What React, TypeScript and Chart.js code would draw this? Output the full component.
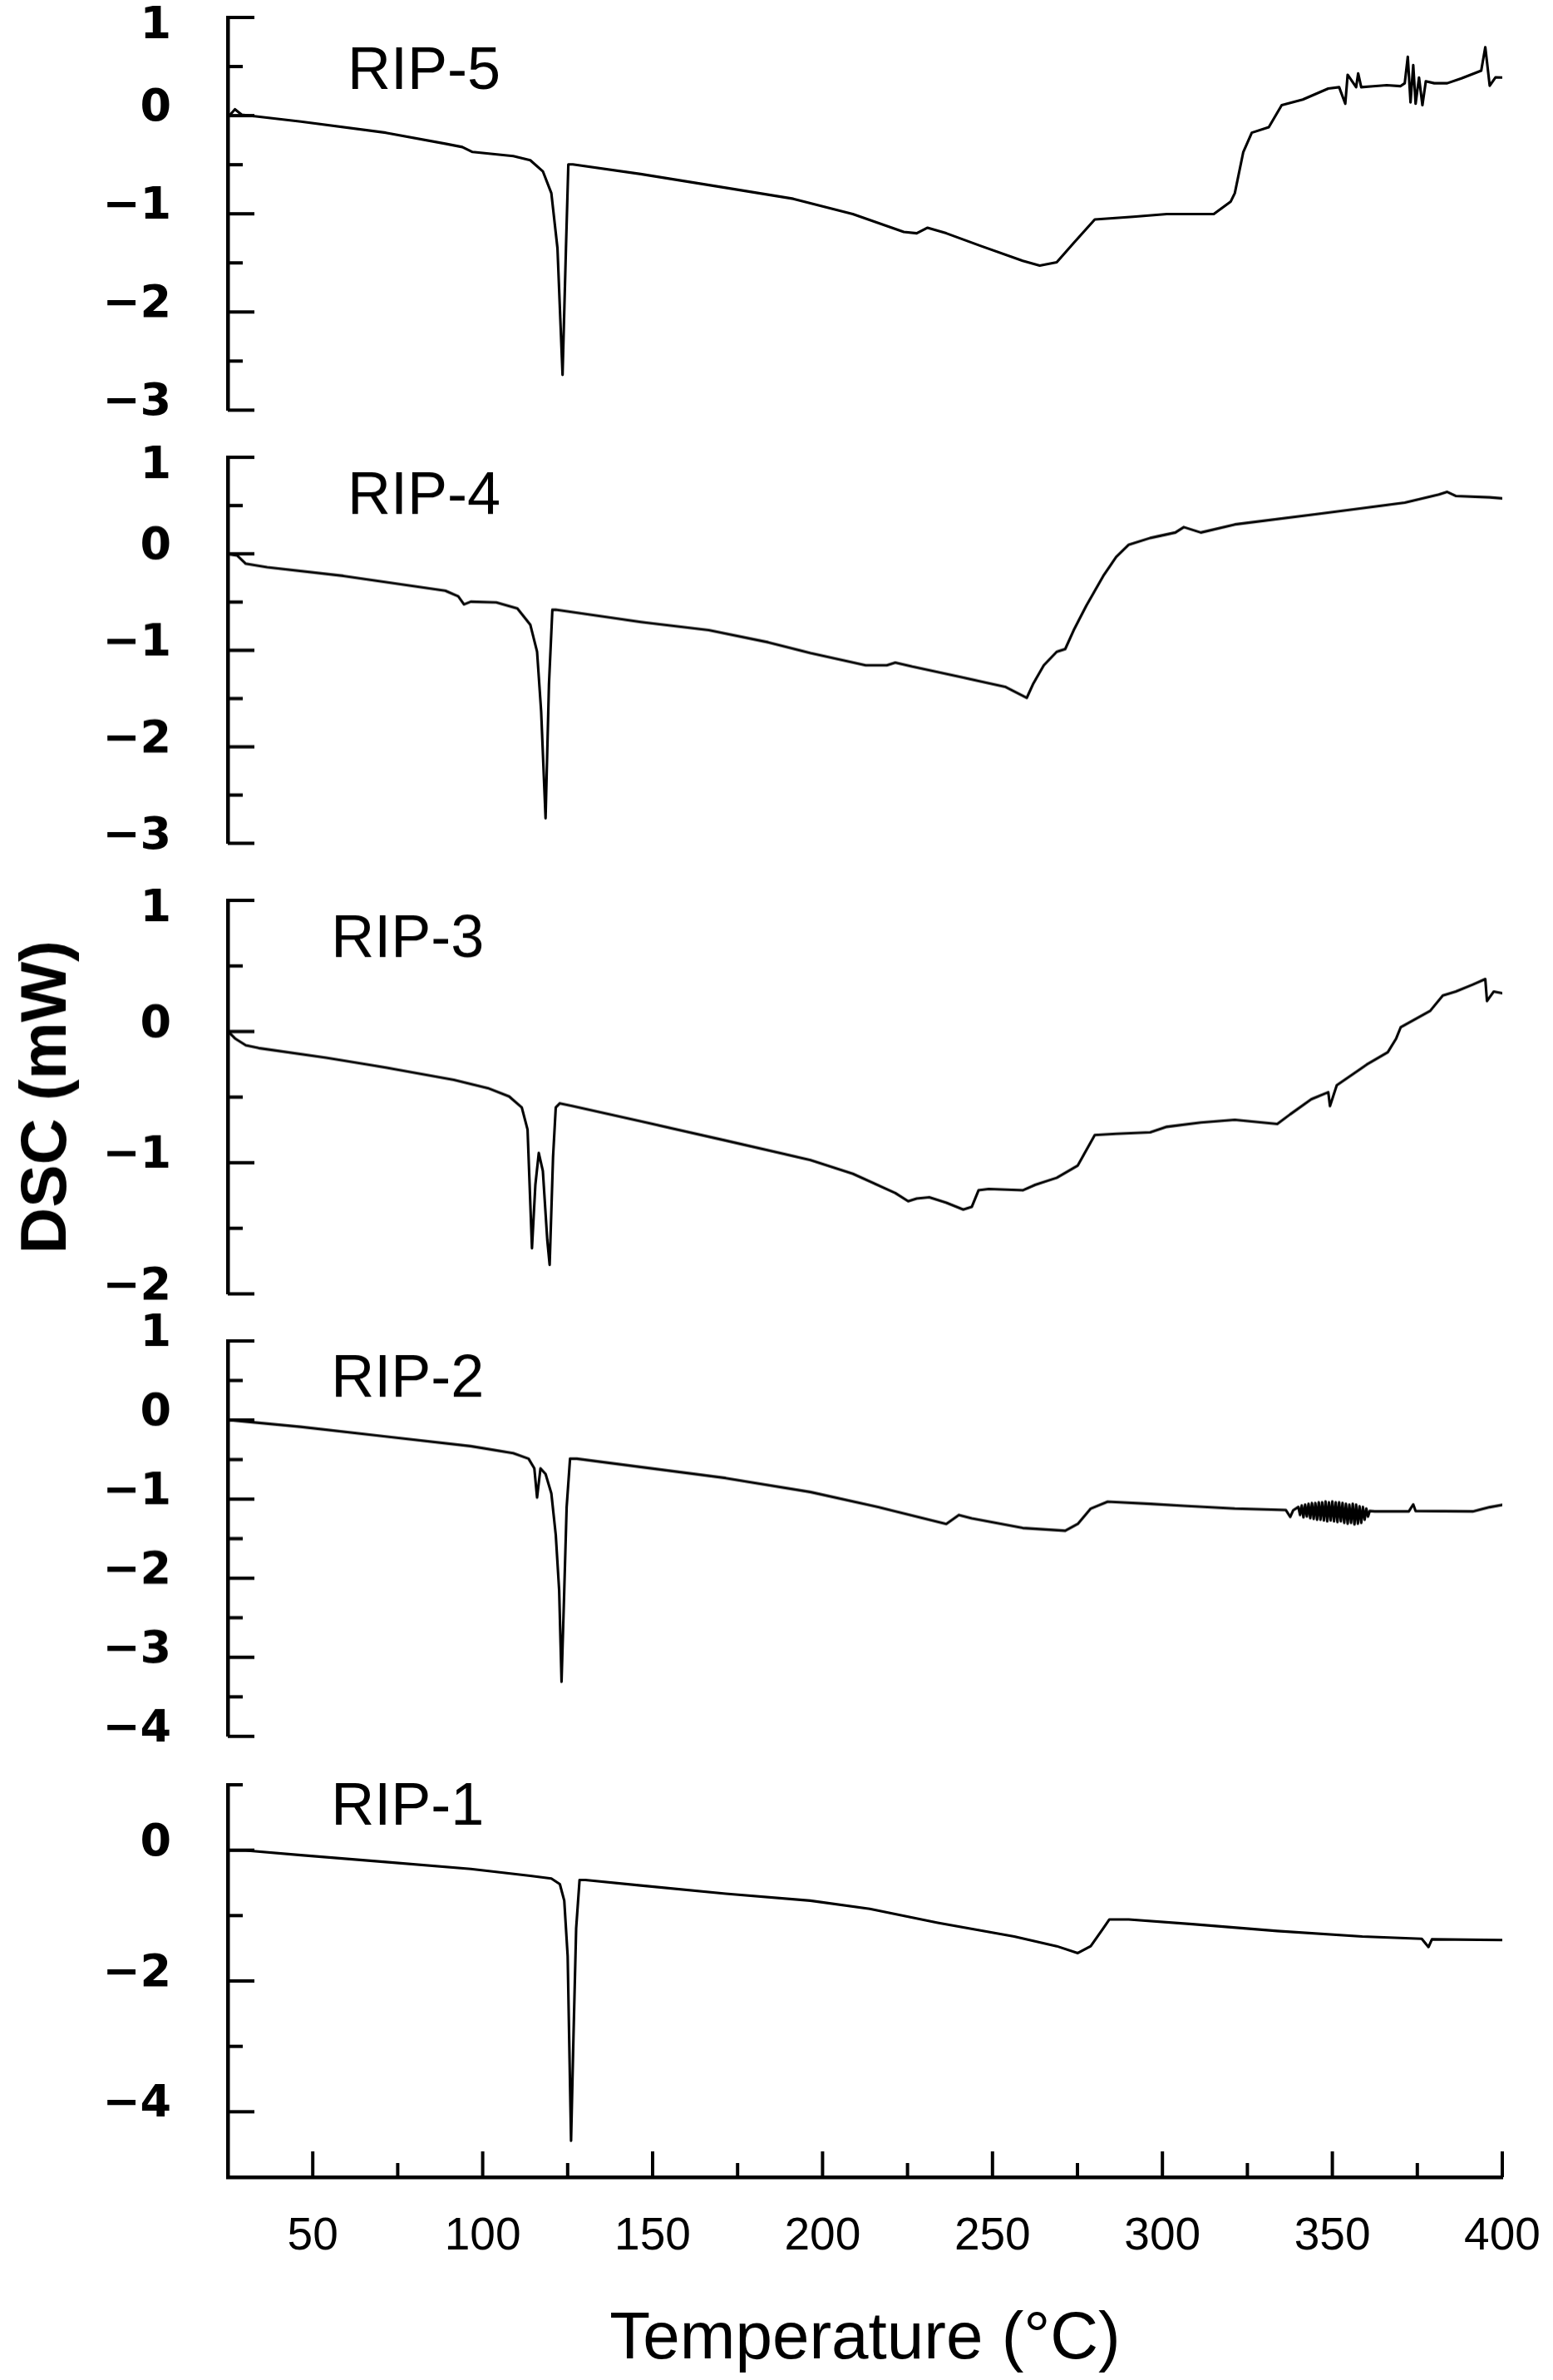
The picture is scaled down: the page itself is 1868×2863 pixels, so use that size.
import React, { useEffect, useRef } from "react";
import { Chart, registerables } from "chart.js";

Chart.register(...registerables);

// ---------------- DATA ----------------
const PANEL_NAMES = ["RIP-5", "RIP-4", "RIP-3", "RIP-2", "RIP-1"];

const rip5T = [25.3, 27.1, 29.1, 46.5, 71.5, 89, 94, 97, 109, 114, 117.7, 120.2, 122, 123.5, 124.5, 125.2, 126.5, 146.5, 171.5, 191.4, 208.9, 223.9, 227.7, 230.9, 236.4, 246.4, 258.9, 263.9, 268.9, 273.9, 280.1, 291.4, 301.3, 315.1, 320.1, 321.3, 323.8, 326.3, 331.3, 335.1, 341.3, 348.8, 352, 353.8, 354.5, 357, 357.6, 358.5, 362, 366, 370, 371.3, 372.2, 373, 373.8, 374.5, 375.5, 376.5, 377.5, 380, 383.8, 388, 393.8, 395, 396.3, 398, 400.8];
const rip5V = [-0.005, 0.065, 0.009, -0.061, -0.174, -0.286, -0.32, -0.37, -0.412, -0.454, -0.567, -0.79, -1.35, -2.64, -1.35, -0.496, -0.496, -0.595, -0.735, -0.847, -1.002, -1.184, -1.198, -1.142, -1.198, -1.325, -1.479, -1.527, -1.493, -1.297, -1.058, -1.03, -1.002, -1.002, -0.875, -0.79, -0.37, -0.174, -0.117, 0.107, 0.164, 0.276, 0.29, 0.121, 0.416, 0.29, 0.43, 0.29, 0.3, 0.31, 0.3, 0.33, 0.6, 0.135, 0.514, 0.121, 0.388, 0.107, 0.35, 0.33, 0.33, 0.38, 0.458, 0.697, 0.304, 0.39, 0.388];

const rip4T = [25.3, 27.8, 30.3, 36.6, 59, 89, 92.8, 94.5, 96.5, 104, 110.2, 114, 116, 117.2, 118.5, 119.5, 120.5, 121.5, 146.5, 166.5, 184, 196.4, 212.7, 218.9, 221.4, 226.4, 241.4, 253.9, 260.1, 261.9, 265.1, 268.9, 271.4, 273.9, 277.6, 282.6, 286.4, 290.1, 296.4, 303.8, 306.3, 311.3, 321.3, 346.3, 371.3, 381.3, 383.8, 386.3, 396.3, 400.8];
const rip4V = [-0.005, -0.019, -0.103, -0.139, -0.229, -0.383, -0.44, -0.524, -0.496, -0.504, -0.566, -0.734, -1.015, -1.633, -2.741, -1.352, -0.58, -0.58, -0.706, -0.791, -0.917, -1.029, -1.155, -1.155, -1.127, -1.169, -1.282, -1.38, -1.492, -1.352, -1.155, -1.015, -0.987, -0.791, -0.538, -0.229, -0.033, 0.094, 0.164, 0.22, 0.276, 0.22, 0.304, 0.416, 0.529, 0.613, 0.641, 0.599, 0.585, 0.571];

const rip3T = [25.3, 27.1, 30.3, 34.1, 54, 71.5, 91.5, 101.5, 107.8, 111.5, 113.2, 114.5, 115.5, 116.5, 117.7, 119, 119.7, 120.7, 121.5, 122.7, 126.5, 146.5, 171.5, 196.4, 208.9, 221.4, 225.2, 227.7, 231.4, 236.4, 241.4, 243.9, 245.9, 248.9, 258.9, 262.6, 268.9, 275.1, 280.1, 286.4, 296.4, 301.3, 311.3, 321.3, 333.8, 337.6, 343.8, 348.8, 349.3, 351.3, 360.1, 366.3, 368.8, 370.1, 378.8, 382.5, 386.3, 391.3, 395, 395.5, 397.5, 400.8];
const rip3V = [-0.006, -0.052, -0.105, -0.126, -0.2, -0.274, -0.368, -0.431, -0.495, -0.579, -0.747, -1.652, -1.168, -0.926, -1.063, -1.589, -1.779, -0.958, -0.579, -0.547, -0.568, -0.684, -0.831, -0.979, -1.084, -1.231, -1.294, -1.273, -1.263, -1.305, -1.357, -1.337, -1.21, -1.2, -1.21, -1.168, -1.115, -1.021, -0.789, -0.779, -0.768, -0.726, -0.694, -0.673, -0.705, -0.631, -0.516, -0.463, -0.568, -0.41, -0.252, -0.158, -0.052, 0.032, 0.158, 0.274, 0.305, 0.358, 0.4, 0.232, 0.305, 0.288];

const rip2T = [25.3, 46.5, 71.5, 96.5, 109, 113.5, 115.2, 116, 117, 118.5, 120.2, 121.5, 122.5, 123.2, 124, 124.7, 125.7, 127.7, 146.5, 171.5, 196.4, 216.4, 236.4, 240.1, 243.9, 258.9, 271.4, 275.1, 278.9, 283.9, 296.4, 306.3, 321.3, 336.3, 337.6, 338.5, 340, 340.5, 341, 341.5, 342, 342.5, 343, 343.5, 344, 344.5, 345, 345.5, 346, 346.5, 347, 347.5, 348, 348.5, 349, 349.5, 350, 350.5, 351, 351.5, 352, 352.5, 353, 353.5, 354, 354.5, 355, 355.5, 356, 356.5, 357, 357.5, 358, 358.5, 359, 359.5, 360, 360.5, 361, 362.5, 372.5, 373.8, 374.5, 391.3, 396.3, 400.8];
const rip2V = [0.001, -0.086, -0.209, -0.331, -0.419, -0.489, -0.612, -0.98, -0.612, -0.682, -0.927, -1.453, -2.154, -3.31, -2.154, -1.102, -0.489, -0.489, -0.594, -0.734, -0.91, -1.102, -1.313, -1.2, -1.243, -1.365, -1.4, -1.313, -1.12, -1.032, -1.06, -1.085, -1.12, -1.137, -1.225, -1.14, -1.1, -1.2, -1.08, -1.23, -1.07, -1.22, -1.06, -1.24, -1.05, -1.25, -1.05, -1.26, -1.04, -1.26, -1.04, -1.27, -1.03, -1.28, -1.04, -1.27, -1.03, -1.28, -1.04, -1.29, -1.04, -1.28, -1.05, -1.3, -1.06, -1.31, -1.07, -1.3, -1.06, -1.32, -1.07, -1.31, -1.09, -1.3, -1.1, -1.26, -1.12, -1.22, -1.15, -1.155, -1.155, -1.067, -1.15, -1.155, -1.102, -1.067];

const rip1T = [25.3, 30.3, 46.5, 71.5, 96.5, 114, 120.2, 122.7, 124, 125, 126, 126.7, 127.5, 128.5, 130.2, 146.5, 171.5, 196.4, 213.9, 233.9, 256.4, 268.9, 275.1, 278.9, 282.6, 284.4, 290.1, 308.8, 333.8, 358.8, 376.3, 378.3, 379.3, 400.8];
const rip1V = [-0.004, -0.004, -0.076, -0.181, -0.287, -0.392, -0.434, -0.519, -0.772, -1.616, -4.442, -2.881, -1.194, -0.456, -0.456, -0.54, -0.666, -0.772, -0.898, -1.109, -1.32, -1.468, -1.573, -1.468, -1.194, -1.059, -1.059, -1.131, -1.236, -1.32, -1.354, -1.481, -1.363, -1.375];

const SERIES_T = [rip5T, rip4T, rip3T, rip2T, rip1T];
const SERIES_V = [rip5V, rip4V, rip3V, rip2V, rip1V];

const Y_MIN = [-3, -3, -2, -4, -5];
const Y_MAX = [1, 1, 1, 1, 1];
const Y_LABELS = [
  [1, 0, -1, -2, -3],
  [1, 0, -1, -2, -3],
  [1, 0, -1, -2],
  [1, 0, -1, -2, -3, -4],
  [0, -2, -4],
];
const Y_MAJOR = [1, 1, 1, 1, 2];
const Y_MINOR = [0.5, 0.5, 0.5, 0.5, 1];

const X_MIN = 25;
const X_MAX = 400;
const X_TICK_LABELS = [50, 100, 150, 200, 250, 300, 350, 400];
const X_TITLE = "Temperature (°C)";
const Y_TITLE = "DSC (mW)";

// panel-name anchors in data units (T, value)
const NAME_ANCHOR_T = [60.2, 60.2, 55.4, 55.4, 55.4];
const NAME_ANCHOR_V = [0.44, 0.588, 0.696, 0.505, 0.637];

// ---------------- LAYOUT / STYLE ----------------
const PAGE_W = 1868;
const PAGE_H = 2863;
const AXIS_LEFT = 274;
const AXIS_RIGHT = 1807;
const PANEL_TOPS = [20.6, 550.2, 1083.2, 1613.2, 2147];
const PANEL_BOTTOMS = [493, 1013.7, 1555.7, 2088, 2619];
const PAD = 45;
// top tick label sits just below its tick in these panels
const TOP_LABEL_DROP = [true, true, true, false, false];

const FONT_SANS = "'Liberation Sans', Arial, Helvetica, sans-serif";
const FONT_NARROW = "'Liberation Sans Narrow', 'Arial Narrow', 'Liberation Sans', Arial, sans-serif";
const FONT_YTICK = "'DejaVu Sans', Verdana, sans-serif";

const fmt = (v: number) => (v < 0 ? "\u2212" + String(-v) : String(v));

const insideTicksPlugin = {
  id: "insideTicks",
  afterDraw(chart: any, _args: any, opts: any) {
    const { ctx, chartArea } = chart;
    const ys = chart.scales.y;
    const xs = chart.scales.x;
    ctx.save();
    ctx.strokeStyle = "#000";
    ctx.lineWidth = opts.width;
    ctx.lineCap = "butt";
    const n = Math.round((ys.max - ys.min) / opts.yMinor);
    for (let k = 0; k <= n; k++) {
      const v = ys.min + k * opts.yMinor;
      const r = v / opts.yMajor;
      const major = Math.abs(r - Math.round(r)) < 1e-6;
      const py = ys.getPixelForValue(v);
      ctx.beginPath();
      ctx.moveTo(chartArea.left, py);
      ctx.lineTo(chartArea.left + (major ? opts.majorLen : opts.minorLen), py);
      ctx.stroke();
    }
    if (opts.xTicks) {
      const m = Math.round((xs.max - xs.min) / 25);
      for (let k = 1; k <= m; k++) {
        const v = xs.min + k * 25;
        const major = v % 50 === 0;
        const px = xs.getPixelForValue(v);
        ctx.beginPath();
        ctx.moveTo(px, chartArea.bottom);
        ctx.lineTo(px, chartArea.bottom - (major ? opts.xMajorLen : opts.xMinorLen));
        ctx.stroke();
      }
    }
    ctx.restore();
  },
};

const panelNamePlugin = {
  id: "panelName",
  afterDraw(chart: any, _args: any, opts: any) {
    const { ctx } = chart;
    ctx.save();
    ctx.font = `${opts.size}px ${FONT_SANS}`;
    ctx.fillStyle = "#000";
    ctx.textBaseline = "middle";
    ctx.textAlign = "left";
    ctx.fillText(
      opts.text,
      chart.scales.x.getPixelForValue(opts.t),
      chart.scales.y.getPixelForValue(opts.v)
    );
    ctx.restore();
  },
};

function Panel({ i }: { i: number }) {
  const ref = useRef<HTMLCanvasElement>(null);
  const isLast = i === PANEL_NAMES.length - 1;
  const top = PANEL_TOPS[i];
  const bottom = PANEL_BOTTOMS[i];
  const canvasTop = top - PAD;
  const canvasH = isLast ? PAGE_H - canvasTop : bottom - top + 2 * PAD;

  useEffect(() => {
    if (!ref.current) return;
    const labels = Y_LABELS[i];
    const yMax = Y_MAX[i];
    const drop = TOP_LABEL_DROP[i];
    const chart = new Chart(ref.current, {
      type: "line",
      data: {
        datasets: [
          {
            data: SERIES_T[i].map((x, k) => ({ x, y: SERIES_V[i][k] })),
            borderColor: "#000",
            borderWidth: 3.1,
            pointRadius: 0,
            tension: 0,
            fill: false,
            borderJoinStyle: "round",
          } as any,
        ],
      },
      options: {
        animation: false,
        responsive: true,
        maintainAspectRatio: false,
        events: [],
        layout: {
          padding: {
            top: PAD,
            bottom: isLast ? 0 : PAD,
            left: 0,
            right: PAGE_W - AXIS_RIGHT,
          },
        },
        plugins: {
          legend: { display: false },
          tooltip: { enabled: false },
          insideTicks: {
            width: 4,
            yMinor: Y_MINOR[i],
            yMajor: Y_MAJOR[i],
            majorLen: 32,
            minorLen: 18,
            xTicks: isLast,
            xMajorLen: 31,
            xMinorLen: 17,
          },
          panelName: {
            text: PANEL_NAMES[i],
            size: 72,
            t: NAME_ANCHOR_T[i],
            v: NAME_ANCHOR_V[i],
          },
        } as any,
        scales: {
          x: {
            type: "linear",
            min: X_MIN,
            max: X_MAX,
            display: isLast,
            afterFit: (s: any) => {
              s.height = isLast ? PAGE_H - PANEL_BOTTOMS[PANEL_BOTTOMS.length - 1] : 0;
              s.paddingLeft = 0;
              s.paddingRight = 0;
            },
            grid: { display: false, drawTicks: false },
            border: { display: true, color: "#000", width: 4.5 },
            ticks: {
              stepSize: 25,
              autoSkip: false,
              maxRotation: 0,
              minRotation: 0,
              color: "#000",
              padding: 39,
              font: { family: FONT_NARROW, size: 55 },
              callback: (val: any) =>
                X_TICK_LABELS.includes(Number(val)) ? String(val) : "",
            },
            title: {
              display: true,
              text: X_TITLE,
              color: "#000",
              font: { family: FONT_SANS, size: 80 },
              padding: { top: 0, bottom: 0 },
            },
          },
          y: {
            type: "linear",
            min: Y_MIN[i],
            max: yMax,
            afterFit: (s: any) => {
              s.width = AXIS_LEFT;
              s.paddingTop = 0;
              s.paddingBottom = 0;
            },
            grid: { display: false, drawTicks: false },
            border: { display: true, color: "#000", width: 4.5 },
            ticks: {
              stepSize: 1,
              autoSkip: false,
              color: "#000",
              padding: 68,
              labelOffset: -8,
              font: (c: any) => ({
                family: FONT_YTICK,
                size: 54,
                weight: "bold",
                lineHeight:
                  drop && c.tick && c.tick.value === yMax ? "38px" : 1.2,
              }),
              callback: (val: any) => {
                const n = Number(val);
                if (!labels.includes(n)) return "";
                if (drop && n === yMax) return ["", fmt(n)];
                return fmt(n);
              },
            },
            title:
              i === 2
                ? {
                    display: true,
                    text: Y_TITLE,
                    color: "#000",
                    font: { family: FONT_SANS, size: 77, weight: "bold" },
                    padding: { top: 12, bottom: 0 },
                  }
                : { display: false },
          },
        } as any,
      },
      plugins: [insideTicksPlugin, panelNamePlugin],
    });
    return () => chart.destroy();
  }, [i]);

  return (
    <div
      style={{
        position: "absolute",
        left: 0,
        top: canvasTop,
        width: PAGE_W,
        height: canvasH,
      }}
    >
      <canvas ref={ref} />
    </div>
  );
}

export default function App() {
  return (
    <div
      style={{
        position: "absolute",
        left: 0,
        top: 0,
        width: PAGE_W,
        height: PAGE_H,
        overflow: "hidden",
        background: "#fff",
      }}
    >
      {PANEL_NAMES.map((_, i) => (
        <Panel key={i} i={i} />
      ))}
    </div>
  );
}
